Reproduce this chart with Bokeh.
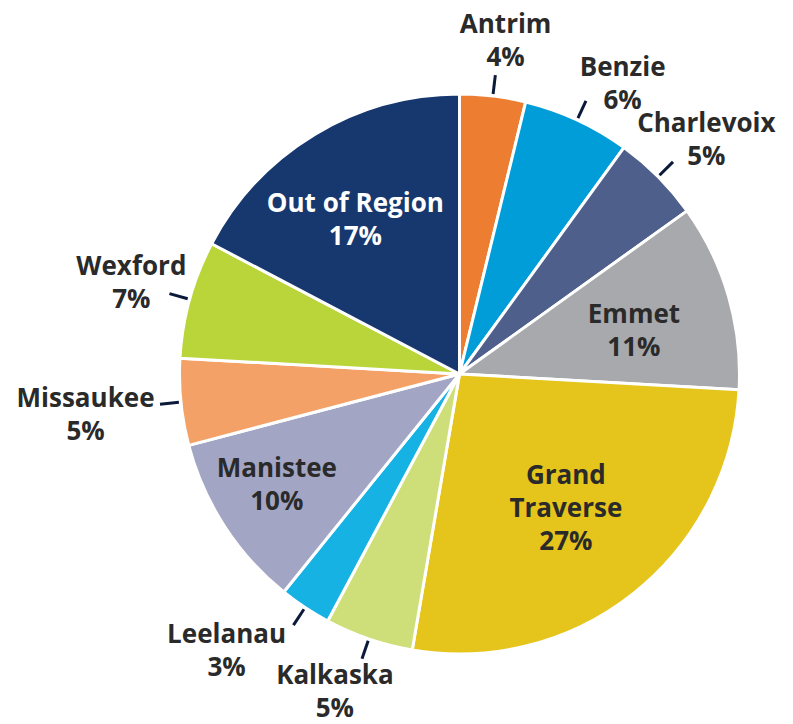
import math
from bokeh.plotting import figure
from bokeh.models import ColumnDataSource, Range1d
from bokeh.core.properties import value
from bokeh.embed import file_html
from bokeh.resources import INLINE

# ---- data ----
counties = ["Antrim", "Benzie", "Charlevoix", "Emmet", "Grand Traverse", "Kalkaska",
            "Leelanau", "Manistee", "Missaukee", "Wexford", "Out of Region"]
shares = [3.8, 6.2, 5.1, 10.8, 26.8, 5.1, 3.0, 10.1, 5.0, 6.8, 17.3]
pct_labels = ["4%", "6%", "5%", "11%", "27%", "5%", "3%", "10%", "5%", "7%", "17%"]
name_labels = [["Antrim"], ["Benzie"], ["Charlevoix"], ["Emmet"], ["Grand", "Traverse"],
               ["Kalkaska"], ["Leelanau"], ["Manistee"], ["Missaukee"], ["Wexford"],
               ["Out of Region"]]

# ---- style ----
colors = ["#ED7D31", "#009DD9", "#4F5F8C", "#A7A9AC", "#E5C41C", "#CEDF7A",
          "#16B2E3", "#A2A6C4", "#F4A167", "#B9D53A", "#17386E"]
text_colors = ["#2a2a2a"] * 10 + ["#ffffff"]
outside = [True, True, True, False, False, True, True, False, True, True, False]
label_dist = [338, 334, 341, 180, 170, 340, 361, 213, 376, 341, 187]
label_shift = [1.0, 4.4, 1.2, 1.9, -0.2, 2.6, 6.7, 2.0, -0.2, 0.3, -2.7]
LINE = 33.0

R = 280
CX, CY = 459, 373.5  # pixel position of the centre in the picture

total = sum(shares)
starts, ends, mids = [], [], []
acc = 0.0
for s in shares:
    a0 = acc / total * 360
    acc += s
    a1 = acc / total * 360
    starts.append(a0)
    ends.append(a1)
    mids.append((a0 + a1) / 2)

# clockwise-from-top degrees -> bokeh angles (anticlockwise from +x)
start_rad = [math.radians(90 - e) for e in ends]
end_rad = [math.radians(90 - s) for s in starts]

src = ColumnDataSource(dict(start=start_rad, end=end_rad, color=colors, name=counties))

W, H = 785, 724
p = figure(width=W, height=H, output_backend="svg", toolbar_location=None,
           x_range=Range1d(-CX, W - CX), y_range=Range1d(CY - H, CY),
           x_axis_type=None, y_axis_type=None, min_border=0)
p.grid.visible = False
p.outline_line_color = None
p.background_fill_color = "white"
p.border_fill_color = "white"

p.wedge(x=0, y=0, radius=R, start_angle="start", end_angle="end", direction="anticlock",
        fill_color="color", line_color="white", line_width=3, source=src)

# leader lines
lx0, ly0, lx1, ly1 = [], [], [], []
for m, o in zip(mids, outside):
    if not o:
        continue
    a = math.radians(m)
    lx0.append(282 * math.sin(a)); ly0.append(282 * math.cos(a))
    lx1.append(301 * math.sin(a)); ly1.append(301 * math.cos(a))
p.segment(x0=lx0, y0=ly0, x1=lx1, y1=ly1, line_color="#0b1a3a", line_width=3)

# labels (one text per line)
tx, ty, tt, tc = [], [], [], []
for m, d, sh, n, pc, c in zip(mids, label_dist, label_shift, name_labels, pct_labels, text_colors):
    a = math.radians(m + sh)
    bx, by = d * math.sin(a), d * math.cos(a)
    lines = n + [pc]
    k = len(lines)
    for i, ln in enumerate(lines):
        tx.append(bx)
        ty.append(by + ((k - 1) / 2 - i) * LINE)
        tt.append(ln)
        tc.append(c)
tsrc = ColumnDataSource(dict(x=tx, y=ty, text=tt, color=tc))
p.text(x="x", y="y", text="text", source=tsrc, text_align="center", text_baseline="middle",
       text_font=value("Open Sans"), text_font_size="26px", text_font_style="bold",
       text_color="color")

open("out.html", "w").write(file_html(p, INLINE))
